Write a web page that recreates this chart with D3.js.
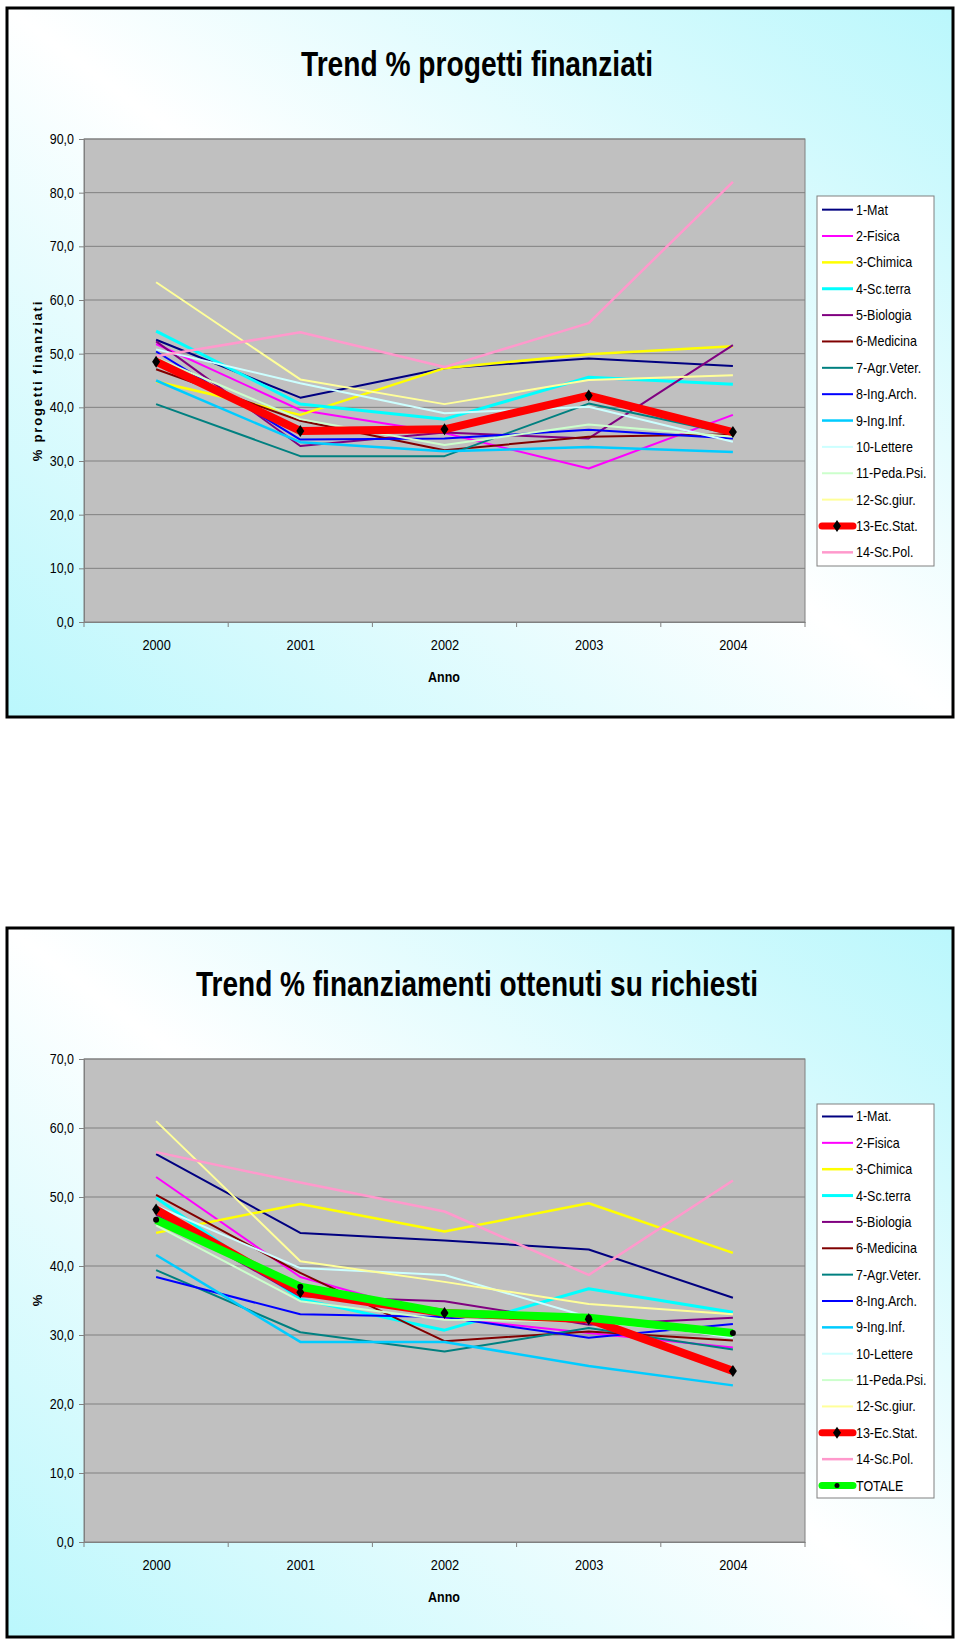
<!DOCTYPE html>
<html><head><meta charset="utf-8">
<script src="https://cdn.jsdelivr.net/npm/d3@7"></script>
<style>body{margin:0;background:#fff}svg{display:block}text{font-family:"Liberation Sans",Arial,sans-serif}</style>
</head><body><div id="c"></div>
<script>
const years = ["2000","2001","2002","2003","2004"];

// Chart 1: Trend % progetti finanziati
const title1 = "Trend % progetti finanziati";
const yLabel1 = "% progetti finanziati";
const yTicks1 = [0,10,20,30,40,50,60,70,80,90];
const names1 = ["1-Mat","2-Fisica","3-Chimica","4-Sc.terra","5-Biologia","6-Medicina","7-Agr.Veter.","8-Ing.Arch.","9-Ing.Inf.","10-Lettere","11-Peda.Psi.","12-Sc.giur.","13-Ec.Stat.","14-Sc.Pol."];
const values1 = [
  [52.6, 41.8, 47.3, 49.1, 47.7],
  [51.8, 39.5, 35.2, 28.6, 38.6],
  [44.8, 38.6, 47.3, 49.9, 51.4],
  [54.2, 40.6, 37.8, 45.6, 44.3],
  [52.3, 32.8, 35.3, 34.2, 51.6],
  [47.1, 37.5, 32.0, 34.5, 35.0],
  [40.6, 30.9, 30.9, 40.7, 35.0],
  [50.4, 34.0, 34.2, 35.8, 34.2],
  [45.0, 33.5, 31.8, 32.6, 31.7],
  [50.8, 44.5, 38.9, 40.1, 33.6],
  [49.2, 37.8, 33.0, 36.8, 34.5],
  [63.3, 45.2, 40.6, 45.1, 46.0],
  [48.5, 35.6, 35.9, 42.2, 35.4],
  [49.5, 54.0, 47.5, 55.7, 82.0]
];

// Chart 2: Trend % finanziamenti ottenuti su richiesti
const title2 = "Trend % finanziamenti ottenuti su richiesti";
const yLabel2 = "%";
const yTicks2 = [0,10,20,30,40,50,60,70];
const names2 = ["1-Mat.","2-Fisica","3-Chimica","4-Sc.terra","5-Biologia","6-Medicina","7-Agr.Veter.","8-Ing.Arch.","9-Ing.Inf.","10-Lettere","11-Peda.Psi.","12-Sc.giur.","13-Ec.Stat.","14-Sc.Pol.","TOTALE"];
const values2 = [
  [56.2, 44.8, 43.7, 42.4, 35.4],
  [52.9, 38.4, 32.5, 30.3, 28.2],
  [44.8, 49.0, 45.0, 49.1, 41.9],
  [49.9, 35.2, 30.7, 36.7, 33.3],
  [47.4, 35.6, 34.9, 31.5, 32.5],
  [50.3, 39.0, 29.1, 30.5, 29.2],
  [39.4, 30.4, 27.6, 31.0, 27.9],
  [38.4, 33.0, 32.6, 29.6, 31.6],
  [41.6, 29.0, 29.0, 25.5, 22.7],
  [48.7, 39.7, 38.7, 32.6, 29.6],
  [45.9, 34.9, 32.2, 32.0, 29.9],
  [61.0, 40.7, 37.7, 34.5, 33.0],
  [48.2, 36.2, 33.2, 32.3, 24.8],
  [56.5, 52.1, 47.9, 38.7, 52.4],
  [46.7, 37.0, 33.2, 32.5, 30.3]
];

const colors = ["#000080","#FF00FF","#FFFF00","#00FFFF","#800080","#800000","#008080","#0000FF","#00CCFF","#CCFFFF","#CCFFCC","#FFFF99","#FF0000","#FF99CC","#00FF00"];
const widths = [2,2,2.5,3,2,2,2,2,2.5,2,2,2,8,2.5,8];
const markers = [null,null,null,null,null,null,null,null,null,null,null,null,"diamond",null,"dot"];

const svg = d3.select("#c").append("svg").attr("width",960).attr("height",1646);
const defs = svg.append("defs");
const grad = defs.append("linearGradient").attr("id","bg").attr("x1",0).attr("y1",1).attr("x2",1).attr("y2",0);
grad.append("stop").attr("offset","0").attr("stop-color","#BAF7FC");
grad.append("stop").attr("offset","0.5").attr("stop-color","#FFFFFF");
grad.append("stop").attr("offset","1").attr("stop-color","#BAF7FC");

const fmt = v => d3.format(".1f")(v).replace(".", ",");
const diamond = "M0,-6L4,0L0,6L-4,0Z";

// condense text horizontally (reference uses a narrow face)
function narrow(sel, k) {
  sel.each(function(){
    const w = this.getComputedTextLength();
    d3.select(this).attr("textLength", w*k).attr("lengthAdjust","spacingAndGlyphs");
  });
}

function drawChart(oy, title, titleLen, yLabel, yTicks, ymax, names, values, legendH) {
  const g = svg.append("g").attr("transform", `translate(0,${oy})`);
  g.append("rect").attr("x",7).attr("y",8).attr("width",946).attr("height",709)
    .attr("fill","url(#bg)").attr("stroke","#000").attr("stroke-width",3);
  g.append("text").attr("x",477).attr("y",76).attr("text-anchor","middle")
    .attr("font-size",35).attr("font-weight","bold").attr("textLength",titleLen)
    .attr("lengthAdjust","spacingAndGlyphs").text(title);

  const L=84, R=805, T=139, B=622;
  const x = d3.scalePoint().domain(years).range([L,R]).padding(0.5);
  const band = d3.scaleBand().domain(years).range([L,R]);
  const y = d3.scaleLinear().domain([0,ymax]).range([B,T]);

  g.append("rect").attr("x",L).attr("y",T).attr("width",R-L).attr("height",B-T)
    .attr("fill","#C0C0C0").attr("stroke","#808080").attr("stroke-width",1);
  g.append("g").selectAll("line").data(yTicks.filter(v=>v>0)).join("line")
    .attr("x1",L).attr("x2",R).attr("y1",d=>y(d)).attr("y2",d=>y(d))
    .attr("stroke","#808080").attr("stroke-width",1);

  const ya = g.append("g").attr("transform",`translate(${L},0)`)
    .call(d3.axisLeft(y).tickValues(yTicks).tickFormat(fmt).tickSize(5).tickPadding(5));
  ya.select(".domain").attr("stroke","#808080");
  ya.selectAll(".tick line").attr("stroke","#808080");
  ya.selectAll("text").attr("font-size",14.5).attr("fill","#000").attr("font-family",'"Liberation Sans",Arial,sans-serif');
  narrow(ya.selectAll("text"), 0.86);

  const xa = g.append("g").attr("transform",`translate(0,${B})`)
    .call(d3.axisBottom(x).tickSize(0).tickPadding(18));
  xa.select(".domain").attr("stroke","#808080");
  xa.selectAll("text").attr("font-size",14.5).attr("fill","#000").attr("font-family",'"Liberation Sans",Arial,sans-serif');
  narrow(xa.selectAll("text"), 0.88);
  const edges = years.map(d=>band(d)).concat([band(years[4])+band.bandwidth()]);
  g.append("g").selectAll("line").data(edges).join("line")
    .attr("x1",d=>d).attr("x2",d=>d).attr("y1",B).attr("y2",B+5).attr("stroke","#808080");

  const anno = g.append("text").attr("x",444).attr("y",682).attr("text-anchor","middle")
    .attr("font-size",14.5).attr("font-weight","bold").text("Anno");
  narrow(anno, 0.86);
  g.append("text").attr("transform",`translate(42,${(T+B)/2}) rotate(-90)`)
    .attr("text-anchor","middle").attr("font-size",13).attr("font-weight","bold")
    .attr("letter-spacing",yLabel.length>1?"1.8px":"0").text(yLabel);

  const line = d3.line().x((d,i)=>x(years[i])).y(d=>y(d));
  names.forEach((n,k)=>{
    const ci = n==="TOTALE" ? 14 : k;
    g.append("path").datum(values[k]).attr("d",line).attr("fill","none")
      .attr("stroke",colors[ci]).attr("stroke-width",widths[ci])
      .attr("stroke-linejoin","round");
  });
  names.forEach((n,k)=>{
    const ci = n==="TOTALE" ? 14 : k;
    if (markers[ci]==="diamond") {
      g.append("g").selectAll("path").data(values[k]).join("path").attr("d",diamond)
        .attr("transform",(d,i)=>`translate(${x(years[i])},${y(d)})`).attr("fill","#000");
    } else if (markers[ci]==="dot") {
      g.append("g").selectAll("circle").data(values[k]).join("circle").attr("r",3)
        .attr("cx",(d,i)=>x(years[i])).attr("cy",d=>y(d)).attr("fill","#000");
    }
  });

  // legend
  const step = 26.36;
  const lcy = 381;
  const lt = lcy - legendH/2;
  g.append("rect").attr("x",817).attr("y",lt).attr("width",117).attr("height",legendH)
    .attr("fill","#fff").attr("stroke","#808080").attr("stroke-width",1);
  const first = lcy - (names.length-1)*step/2;
  names.forEach((n,k)=>{
    const ci = n==="TOTALE" ? 14 : k;
    const yy = first + k*step;
    g.append("line").attr("x1",822).attr("x2",853).attr("y1",yy).attr("y2",yy)
      .attr("stroke",colors[ci]).attr("stroke-width",Math.min(widths[ci],7))
      .attr("stroke-linecap",widths[ci]>4?"round":"butt");
    if (markers[ci]==="diamond") g.append("path").attr("d",diamond).attr("transform",`translate(837,${yy})`).attr("fill","#000");
    if (markers[ci]==="dot") g.append("circle").attr("r",2.5).attr("cx",837).attr("cy",yy).attr("fill","#000");
    const t = g.append("text").attr("x",856).attr("y",yy+5).attr("font-size",14.5).text(n);
    narrow(t, 0.86);
  });
}

drawChart(0, title1, 352, yLabel1, yTicks1, 90, names1, values1, 370);
drawChart(920, title2, 562, yLabel2, yTicks2, 70, names2, values2, 394);
</script></body></html>
